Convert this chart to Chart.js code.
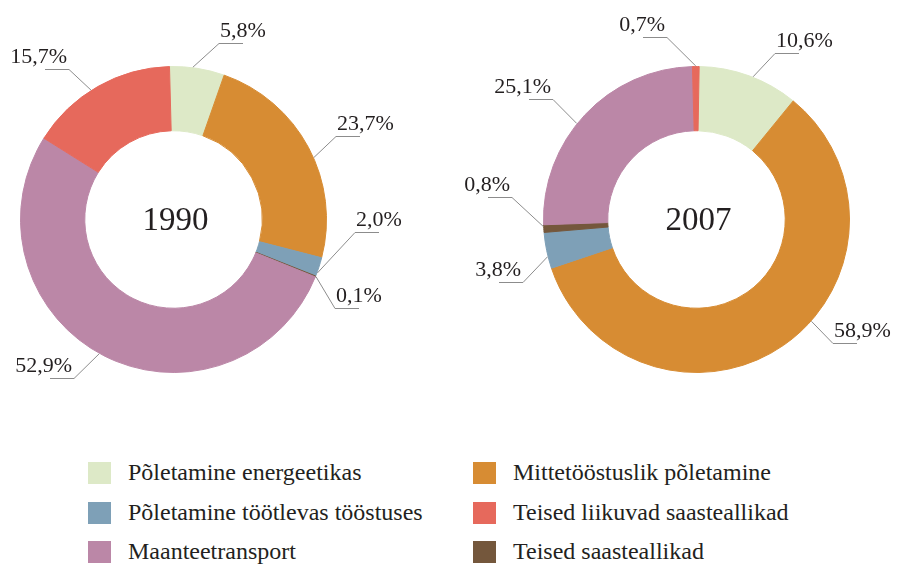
<!DOCTYPE html>
<html>
<head>
<meta charset="utf-8">
<script src="https://cdn.jsdelivr.net/npm/chart.js@4.4.1/dist/chart.umd.min.js"></script>
<style>
  body { margin: 0; background: #fff; width: 897px; height: 564px; position: relative; overflow: hidden;
         font-family: "Liberation Serif", serif; color: #231f20; }
  #chart1990 { position: absolute; left: 0; top: 0; }
  #chart2007 { position: absolute; left: 449px; top: 0; }
  #legend { position: absolute; left: 88px; top: 462px; display: grid;
            grid-template-columns: 385px 330px; grid-auto-rows: 39.5px; }
  .item { display: flex; align-items: flex-start; font-size: 24px; line-height: 22px; white-space: nowrap; }
  .item span { position: relative; top: -1px; }
  .box { width: 23px; height: 22px; margin-right: 17px; flex: none; }
</style>
</head>
<body>
<canvas id="chart1990" width="448" height="440"></canvas>
<canvas id="chart2007" width="448" height="440"></canvas>
<div id="legend"></div>
<script>
// slices, clockwise from the top
const categories = [
    'Põletamine energeetikas',
    'Mittetööstuslik põletamine',
    'Põletamine töötlevas tööstuses',
    'Teised saasteallikad',
    'Maanteetransport',
    'Teised liikuvad saasteallikad'
];
const values1990 = [5.8, 23.7, 2.0, 0.1, 52.9, 15.7];
const values2007 = [10.6, 58.9, 3.8, 0.8, 25.1, 0.7];
const years = ['1990', '2007'];

const colors = ['#dde9c7', '#d78c33', '#7ea0b7', '#74573c', '#bb87a7', '#e6695c'];

// legend is read row by row (two columns)
const legendOrder = [0, 1, 2, 5, 4, 3];

// where each leader line leaves its slice and where its elbow sits
const labelLayout1990 = [
    { frac: 0.42, dx: 26, dy: -24, side: 'right' },
    { frac: 0.55, dx: 22, dy: -21, side: 'right' },
    { frac: 0.82, dx: 38, dy: -41, side: 'right' },
    { frac: 0.5, dx: 19, dy: 31, side: 'right' },
    { frac: 0.51, dx: -25, dy: 24, side: 'left' },
    { frac: 0.45, dx: -22, dy: -21, side: 'left' }
];
const labelLayout2007 = [
    { frac: 0.54, dx: 22, dy: -24, side: 'right' },
    { frac: 0.435, dx: 22, dy: 22, side: 'right' },
    { frac: 0.33, dx: -25, dy: 25, side: 'left' },
    { frac: 0.8, dx: -31, dy: -29, side: 'left' },
    { frac: 0.45, dx: -24, dy: -24, side: 'left' },
    { frac: 0.5, dx: -29, dy: -29, side: 'left' }
];

function fmt(v) {
    return v.toFixed(1).replace('.', ',') + '%';
}

// leader lines, percent labels and the year in the hole
const leaderLabels = {
    id: 'leaderLabels',
    afterDatasetsDraw(chart, args, opts) {
        const ctx = chart.ctx;
        const meta = chart.getDatasetMeta(0);
        const values = chart.data.datasets[0].data;
        let cx = 0, cy = 0;
        ctx.save();
        meta.data.forEach(function (arc, i) {
            const p = arc.getProps(['x', 'y', 'startAngle', 'endAngle', 'outerRadius'], true);
            cx = p.x; cy = p.y;
            const l = opts.layout[i];
            const a = p.startAngle + l.frac * (p.endAngle - p.startAngle);
            const r = p.outerRadius + 0.5;
            const ax = p.x + r * Math.cos(a);
            const ay = p.y + r * Math.sin(a);
            const ex = Math.round(ax + l.dx);
            const ey = Math.round(ay + l.dy) + 0.5;
            const dir = l.side === 'right' ? 1 : -1;

            ctx.strokeStyle = '#8c8c8c';
            ctx.lineWidth = 1;
            ctx.beginPath();
            ctx.moveTo(ax, ay);
            ctx.lineTo(ex, ey);
            ctx.lineTo(ex + dir * 24, ey);
            ctx.stroke();

            ctx.fillStyle = '#231f20';
            ctx.font = '22px "Liberation Serif"';
            ctx.textBaseline = 'alphabetic';
            ctx.textAlign = dir > 0 ? 'left' : 'right';
            ctx.fillText(fmt(values[i]), ex + (dir > 0 ? 1 : -2), ey - 6.5);
        });
        ctx.fillStyle = '#231f20';
        ctx.font = '33px "Liberation Serif"';
        ctx.textAlign = 'center';
        ctx.textBaseline = 'middle';
        ctx.fillText(opts.title, cx + 2, cy + 2);
        ctx.restore();
    }
};

function makeChart(canvasId, values, year, rotation, padding, layout) {
    const canvas = document.getElementById(canvasId);
    return new Chart(canvas.getContext('2d'), {
        type: 'doughnut',
        data: {
            labels: categories,
            datasets: [{
                data: values,
                backgroundColor: colors,
                borderColor: colors,
                borderWidth: 1,
                hoverOffset: 0
            }]
        },
        options: {
            responsive: false,
            animation: false,
            events: [],
            cutout: '58%',
            rotation: rotation,
            layout: { padding: padding },
            plugins: {
                legend: { display: false },
                tooltip: { enabled: false },
                leaderLabels: { layout: layout, title: year }
            }
        },
        plugins: [leaderLabels]
    });
}

makeChart('chart1990', values1990, years[0], -1.5,
    { left: 20, right: 121, top: 66, bottom: 67 }, labelLayout1990);
makeChart('chart2007', values2007, years[1], 1,
    { left: 94, right: 47, top: 66, bottom: 67 }, labelLayout2007);

// legend in two columns
const legend = document.getElementById('legend');
legendOrder.forEach(function (idx) {
    const item = document.createElement('div');
    item.className = 'item';
    const box = document.createElement('div');
    box.className = 'box';
    box.style.background = colors[idx];
    const text = document.createElement('span');
    text.textContent = categories[idx];
    item.appendChild(box);
    item.appendChild(text);
    legend.appendChild(item);
});
</script>
</body>
</html>
